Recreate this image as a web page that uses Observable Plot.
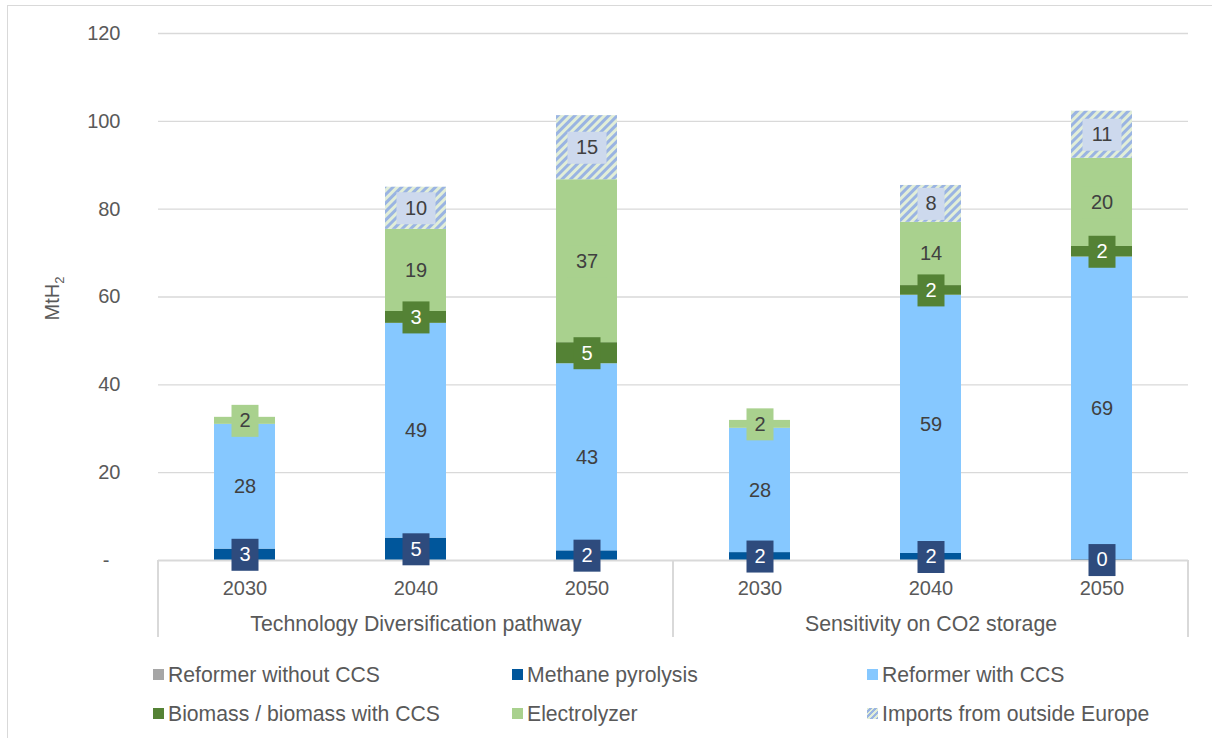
<!DOCTYPE html>
<html>
<head>
<meta charset="utf-8">
<script src="https://cdn.jsdelivr.net/npm/d3@7"></script>
<script src="https://cdn.jsdelivr.net/npm/@observablehq/plot@0.6"></script>
<style>
  html, body { margin: 0; padding: 0; background: #fff; overflow: hidden; }
  #wrap { position: relative; width: 1212px; height: 738px; overflow: hidden; background: #fff;
          font-family: "Liberation Sans", Arial, sans-serif; color: #595959; }
  #border { position: absolute; left: 7px; top: 5px; width: 1240px; height: 800px;
            border: 1px solid #d9d9d9; box-sizing: border-box; }
  #chart { position: absolute; left: 0; top: 0; }
  #legend { position: absolute; left: 153px; top: 655px; display: grid;
            grid-template-columns: 359px 355px 340px; grid-auto-rows: 39px; }
  .item { display: flex; align-items: center; font-size: 21.2px; color: #595959; white-space: nowrap; }
  .sw { width: 11px; height: 11px; margin-right: 4px; flex: none; }
</style>
</head>
<body>
<div id="wrap">
  <div id="border"></div>
  <div id="chart"></div>
  <div id="legend"></div>
</div>
<script>
// ---------- data ----------
const groups = ["Technology Diversification pathway", "Sensitivity on CO2 storage"];
const years = ["2030", "2040", "2050"];
const seriesNames = [
  "Reformer without CCS",
  "Methane pyrolysis",
  "Reformer with CCS",
  "Biomass / biomass with CCS",
  "Electrolyzer",
  "Imports from outside Europe"
];
// order: TD 2030, TD 2040, TD 2050, CO2 2030, CO2 2040, CO2 2050  (MtH2)
const reformerWithoutCCS = [0, 0, 0, 0, 0, 0];
const methanePyrolysis   = [2.6, 5.1, 2.2, 1.8, 1.6, 0.2];
const reformerWithCCS    = [28.4, 48.9, 42.6, 28.3, 58.8, 68.9];
const biomass            = [0, 2.7, 4.8, 0, 2.2, 2.4];
const electrolyzer       = [1.6, 18.7, 37.1, 1.8, 14.4, 20.1];
const imports            = [0, 9.6, 14.6, 0, 8.4, 10.7];
const yTicks = [0, 20, 40, 60, 80, 100, 120];

const seriesValues = [reformerWithoutCCS, methanePyrolysis, reformerWithCCS, biomass, electrolyzer, imports];
const seriesColors = ["#a6a6a6", "#00569b", "#86c8ff", "#548235", "#a9d18e", "url(#hatch)"];

const data = [];
groups.forEach((g, gi) => years.forEach((y, yi) => {
  seriesNames.forEach((s, si) => {
    data.push({group: g, year: y, series: s, value: seriesValues[si][gi * 3 + yi]});
  });
}));

// ---------- label helpers ----------
function boxSymbol(w, h) {
  return {draw(ctx) { ctx.rect(-w / 2, -h / 2, w, h); }};
}
const fmt = d => String(Math.round(d.value));
const stackOpts = extra => Plot.stackY({x: "year", y: "value", fx: "group", ...extra});

function labels(series, {box, textFill}) {
  const marks = [];
  const sel = d => d.series === series && d.value > 0;
  if (box) {
    marks.push(Plot.dot(data, Plot.filter(d => sel(d) && fmt(d).length === 1,
      stackOpts({symbol: boxSymbol(27, 32), fill: box, stroke: "none", r: 5}))));
    marks.push(Plot.dot(data, Plot.filter(d => sel(d) && fmt(d).length > 1,
      stackOpts({symbol: boxSymbol(39, 32), fill: box, stroke: "none", r: 5}))));
  }
  marks.push(Plot.text(data, Plot.filter(sel,
    stackOpts({text: fmt, fill: textFill, fontSize: 20}))));
  return marks;
}

// ---------- chart ----------
const W = 1212, H = 645;
const plot = Plot.plot({
  width: W,
  height: H,
  marginTop: 33,
  marginBottom: 85,
  marginLeft: 157,
  marginRight: 24,
  style: {fontFamily: '"Liberation Sans", Arial, sans-serif', fontSize: "20px", color: "#595959", background: "transparent", overflow: "visible"},
  fx: {domain: groups, padding: 0},
  x: {domain: years, paddingInner: 0.645, paddingOuter: 0.3225},
  y: {domain: [0, 120]},
  color: {domain: seriesNames, range: seriesColors},
  marks: [
    Plot.gridY({ticks: yTicks.filter(t => t > 0), stroke: "#d9d9d9", strokeOpacity: 1, strokeWidth: 1.3}),
    Plot.barY(data, stackOpts({fill: "series"})),
    Plot.ruleY([0], {stroke: "#d9d9d9", strokeWidth: 2}),
    ...labels("Methane pyrolysis", {box: "#2e4b7d", textFill: "#ffffff"}),
    ...labels("Reformer with CCS", {box: null, textFill: "#404040"}),
    ...labels("Biomass / biomass with CCS", {box: "#548235", textFill: "#ffffff"}),
    ...labels("Electrolyzer", {box: "#a9d18e", textFill: "#404040"}),
    ...labels("Imports from outside Europe", {box: "#cdd9ed", textFill: "#404040"}),
    Plot.axisY({ticks: yTicks, tickSize: 0, tickPadding: 38, label: null,
      tickFormat: d => d === 0 ? "-\u00a0\u00a0" : String(d)}),
    Plot.axisX({tickSize: 0, tickPadding: 20, label: null}),
    Plot.axisFx({anchor: "bottom", tickSize: 0, tickPadding: 55, label: null, fontSize: 21.3})
  ]
});
document.getElementById("chart").appendChild(plot);

// hatch pattern definition
const svg = d3.select(plot);
const defs = svg.insert("defs", ":first-child");
const pat = defs.append("pattern").attr("id", "hatch").attr("patternUnits", "userSpaceOnUse")
  .attr("width", 6).attr("height", 6).attr("patternTransform", "rotate(45)");
pat.append("rect").attr("width", 6).attr("height", 6).attr("fill", "#e2eed8");
pat.append("rect").attr("width", 3).attr("height", 6).attr("fill", "#9ab4e2");

// category separators below the axis, from the fx / y scales
const fx = plot.scale("fx"), ys = plot.scale("y");
const y0 = ys.apply(0);
const edges = groups.map(g => fx.apply(g));
edges.push(fx.apply(groups[groups.length - 1]) + fx.bandwidth);
svg.append("g").selectAll("line").data(edges).join("line")
  .attr("x1", d => d).attr("x2", d => d).attr("y1", y0).attr("y2", y0 + 77)
  .attr("stroke", "#d9d9d9").attr("stroke-width", 2);

// y axis title MtH2
const yt = svg.append("text").attr("transform", `translate(59,${(ys.apply(0) + ys.apply(120)) / 2 + 2}) rotate(-90)`)
  .attr("text-anchor", "middle").attr("fill", "#595959").attr("font-size", 20);
yt.append("tspan").text("MtH");
yt.append("tspan").attr("font-size", 13).attr("dy", 5).text("2");

// legend
const legend = document.getElementById("legend");
seriesNames.forEach((s, i) => {
  const item = document.createElement("div");
  item.className = "item";
  const sw = document.createElement("span");
  sw.className = "sw";
  if (s === "Imports from outside Europe") {
    sw.style.background = "repeating-linear-gradient(-45deg, #9ab4e2 0 2px, #e2eed8 2px 4px)";
  } else {
    sw.style.background = seriesColors[i];
  }
  const tx = document.createElement("span");
  tx.textContent = s;
  item.appendChild(sw);
  item.appendChild(tx);
  legend.appendChild(item);
});
</script>
</body>
</html>
